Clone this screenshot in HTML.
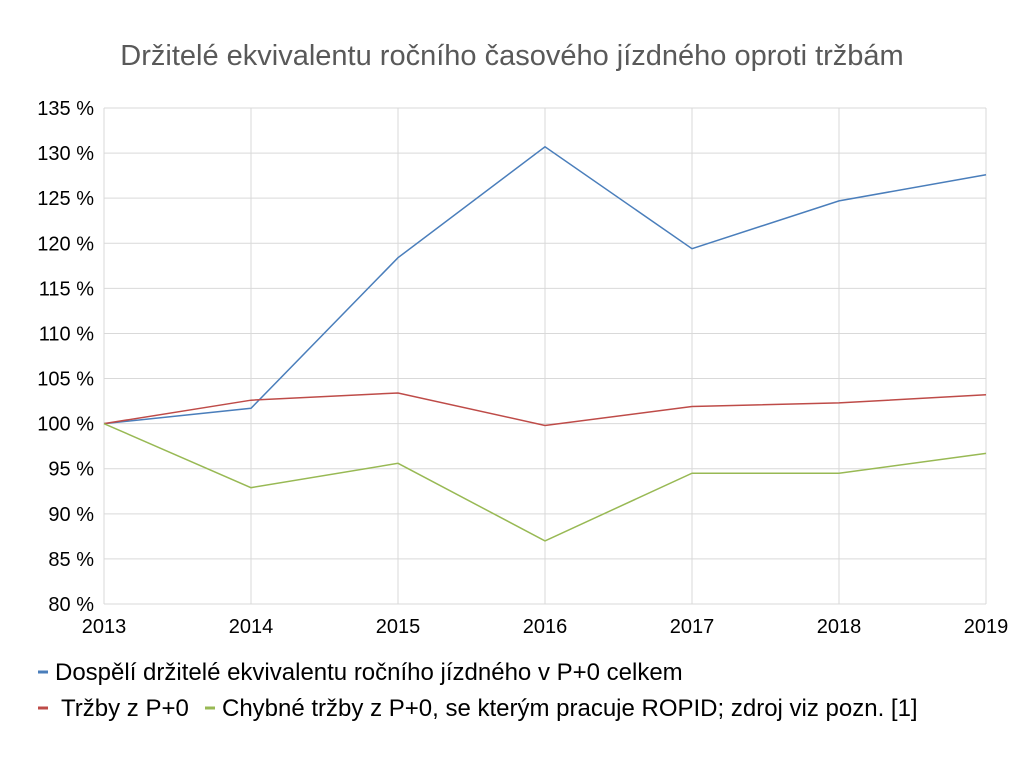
<!DOCTYPE html>
<html><head><meta charset="utf-8"><style>
body{margin:0;background:#fff;width:1024px;height:760px;overflow:hidden;font-family:"Liberation Sans",sans-serif}
</style></head><body>
<svg width="1024" height="760">
<text x="512" y="65" text-anchor="middle" font-size="29" fill="#595959">Držitelé ekvivalentu ročního časového jízdného oproti tržbám</text>
<g id="grid"></g><g id="axes"></g><g id="series"></g>
<g font-size="24" fill="#000">
<line x1="38" y1="672" x2="48" y2="672" stroke="#4a7ebb" stroke-width="3"/>
<text x="55" y="680">Dospělí držitelé ekvivalentu ročního jízdného v P+0 celkem</text>
<line x1="38" y1="708" x2="48" y2="708" stroke="#be4b48" stroke-width="3"/>
<text x="61" y="716">Tržby z P+0</text>
<line x1="205" y1="708" x2="215" y2="708" stroke="#98b954" stroke-width="3"/>
<text x="222" y="716">Chybné tržby z P+0, se kterým pracuje ROPID; zdroj viz pozn. [1]</text>
</g>
</svg>
<script>
const years=["2013","2014","2015","2016","2017","2018","2019"];
const yTicks=[80,85,90,95,100,105,110,115,120,125,130,135];
const blueVals=[100,101.7,118.4,130.7,119.4,124.7,127.6];
const redVals=[100,102.6,103.4,99.8,101.9,102.3,103.2];
const greenVals=[100,92.9,95.6,87.0,94.5,94.5,96.7];
const X0=104,X1=986,Y0=604,Y1=108,NS="http://www.w3.org/2000/svg";
const xs=i=>X0+(X1-X0)*i/(years.length-1);
const ys=v=>Y0-(v-80)/(135-80)*(Y0-Y1);
function mk(t,a,p){const e=document.createElementNS(NS,t);for(const k in a)e.setAttribute(k,a[k]);p.appendChild(e);return e;}
const g=document.getElementById('grid'),ax=document.getElementById('axes'),s=document.getElementById('series');
yTicks.forEach(v=>{
 const l=mk('line',{x1:X0,x2:X1,y1:ys(v),y2:ys(v),stroke:'#d9d9d9','stroke-width':1},g);
 
 
 const t=mk('text',{x:94,y:ys(v)+7,'text-anchor':'end','font-size':20,fill:'#000'},ax);
 t.textContent=v+' %';
 
 
});
years.forEach((y,i)=>{
 const l=mk('line',{x1:xs(i),x2:xs(i),y1:Y1,y2:Y0,stroke:'#d9d9d9','stroke-width':1},g);
 
 
 const t=mk('text',{x:xs(i),y:633,'text-anchor':'middle','font-size':20,fill:'#000'},ax);
 t.textContent=y;
 
 
});
[[blueVals,'#4a7ebb','series-dospeli'],[redVals,'#be4b48','series-trzby'],[greenVals,'#98b954','series-chybne']].forEach(([d,c,n])=>{
 const p=mk('polyline',{points:d.map((v,i)=>xs(i)+','+ys(v)).join(' '),fill:'none',stroke:c,'stroke-width':1.5},s);
 
 
});
</script>
</body></html>
